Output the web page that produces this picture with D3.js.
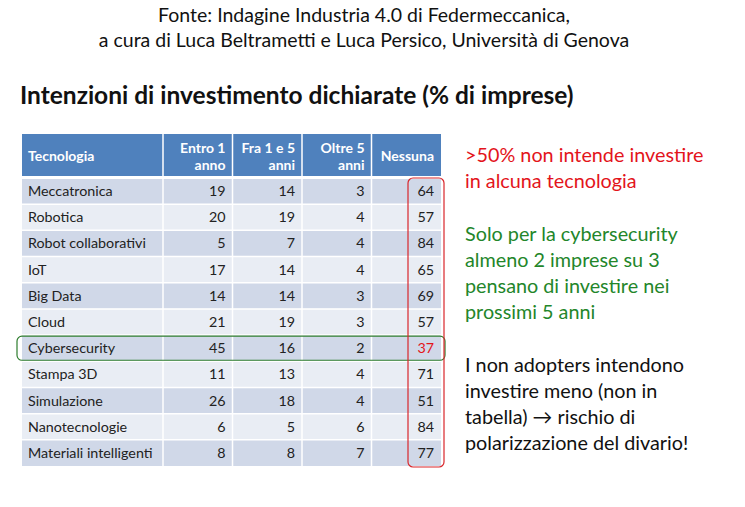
<!DOCTYPE html>
<html>
<head>
<meta charset="utf-8">
<script src="https://cdn.jsdelivr.net/npm/d3@7"></script>
<style>
body { margin:0; background:#fff; }
svg { font-family: Lato, "Open Sans", sans-serif; }
</style>
</head>
<body>
<script>

// table data
var tecnologie = ["Meccatronica","Robotica","Robot collaborativi","IoT","Big Data","Cloud","Cybersecurity","Stampa 3D","Simulazione","Nanotecnologie","Materiali intelligenti"];
var entro1 = [19,20,5,17,14,21,45,11,26,6,8];
var fra1e5 = [14,19,7,14,14,19,16,13,18,5,8];
var oltre5 = [3,4,4,4,3,3,2,4,4,6,7];
var nessuna = [64,57,84,65,69,57,37,71,51,84,77];
var colonne = [["Entro 1","anno"],["Fra 1 e 5","anni"],["Oltre 5","anni"],["Nessuna"]];

var note = [
  {color:"#e3141b", lines:[">50% non intende investire","in alcuna tecnologia"]},
  {color:"#23862a", lines:["Solo per la cybersecurity","almeno 2 imprese su 3","pensano di investire nei","prossimi 5 anni"]},
  {color:"#111", lines:["I non adopters intendono","investire meno (non in","tabella) \u2192 rischio di","polarizzazione del divario!"]}
];

var width = 745, height = 507;
var svg = d3.select("body").append("svg")
    .attr("width", width)
    .attr("height", height);

// titles
svg.append("text")
    .attr("x", 364).attr("y", 22)
    .attr("text-anchor", "middle")
    .style("font-size", "19.5px").style("fill", "#111")
    .text("Fonte: Indagine Industria 4.0 di Federmeccanica,");
svg.append("text")
    .attr("x", 364).attr("y", 47)
    .attr("text-anchor", "middle")
    .style("font-size", "19.5px").style("fill", "#111")
    .text("a cura di Luca Beltrametti e Luca Persico, Universit\u00e0 di Genova");
svg.append("text")
    .attr("x", 20).attr("y", 104)
    .style("font-size", "24.5px").style("font-weight", "bold").style("fill", "#111")
    .text("Intenzioni di investimento dichiarate (% di imprese)");

// scales
var left = 22, firstColRight = 163, right = 441;
var headTop = 134, headBottom = 177;
var y = d3.scaleBand()
    .domain(tecnologie)
    .range([178, 466]);
var x = d3.scaleBand()
    .domain(d3.range(colonne.length))
    .range([firstColRight, right]);

var series = [entro1, fra1e5, oltre5, nessuna];

var table = svg.append("g").attr("class", "table");

// header
table.append("rect")
    .attr("x", left).attr("y", headTop)
    .attr("width", right - left).attr("height", headBottom - headTop)
    .style("fill", "#4f81bd");
table.append("text")
    .attr("x", left + 6).attr("y", 161)
    .style("font-size", "14px").style("font-weight", "bold").style("fill", "#fff")
    .text("Tecnologia");

colonne.forEach(function(c, j){
  var t = table.append("text")
    .attr("x", x(j) + x.bandwidth() - 7)
    .attr("text-anchor", "end")
    .style("font-size", "14px").style("font-weight", "bold").style("fill", "#fff");
  if (c.length == 1) {
    t.attr("y", 161).text(c[0]);
  } else {
    t.append("tspan").attr("x", x(j) + x.bandwidth() - 7).attr("y", 153).text(c[0]);
    t.append("tspan").attr("x", x(j) + x.bandwidth() - 7).attr("y", 170).text(c[1]);
  }
});

// rows
var rows = table.selectAll("g.row")
    .data(tecnologie)
    .enter().append("g")
    .attr("class", "row");

rows.append("rect")
    .attr("x", left)
    .attr("y", function(d){ return y(d); })
    .attr("width", right - left)
    .attr("height", y.bandwidth())
    .style("fill", function(d, i){ return i % 2 == 0 ? "#d0d8e8" : "#e9edf4"; });

rows.append("text")
    .attr("x", left + 6)
    .attr("y", function(d){ return y(d) + y.bandwidth()/2 + 5; })
    .style("font-size", "14.3px").style("fill", "#222")
    .text(function(d){ return d; });

series.forEach(function(s, j){
  table.selectAll("text.v" + j)
    .data(s)
    .enter().append("text")
    .attr("class", "v" + j)
    .attr("x", x(j) + x.bandwidth() - 7)
    .attr("y", function(d, i){ return y(tecnologie[i]) + y.bandwidth()/2 + 5; })
    .attr("text-anchor", "end")
    .style("font-size", "14.3px")
    .style("fill", function(d, i){ return (j == 3 && tecnologie[i] == "Cybersecurity") ? "#e3141b" : "#222"; })
    .text(function(d){ return d; });
});

// white grid lines
table.selectAll("line.vsep")
    .data([firstColRight].concat(d3.range(1, colonne.length).map(function(j){ return x(j); })))
    .enter().append("line")
    .attr("x1", function(d){ return d; }).attr("x2", function(d){ return d; })
    .attr("y1", headTop).attr("y2", 466)
    .style("stroke", "#fff").style("stroke-width", 1.5);
table.selectAll("line.hsep")
    .data(tecnologie.slice(1))
    .enter().append("line")
    .attr("x1", left).attr("x2", right)
    .attr("y1", function(d){ return y(d); }).attr("y2", function(d){ return y(d); })
    .style("stroke", "#fff").style("stroke-width", 1.5);
table.append("line")
    .attr("x1", left).attr("x2", right)
    .attr("y1", headBottom + 0.5).attr("y2", headBottom + 0.5)
    .style("stroke", "#fff").style("stroke-width", 3);

// highlight boxes
svg.append("rect")
    .attr("x", 17).attr("y", y("Cybersecurity") + 1)
    .attr("width", 428).attr("height", y.bandwidth() - 2)
    .attr("rx", 5)
    .style("fill", "none").style("stroke", "#2e7d2e").style("stroke-width", 1.2);
svg.append("rect")
    .attr("x", 408).attr("y", y.range()[0])
    .attr("width", 36).attr("height", y.range()[1] - y.range()[0] + 1)
    .attr("rx", 5)
    .style("fill", "none").style("stroke", "#d9262b").style("stroke-width", 1.2);

// side notes
var lineH = 26.2, ny = 162;
note.forEach(function(n){
  n.lines.forEach(function(l){
    svg.append("text")
      .attr("x", 465).attr("y", ny)
      .style("font-size", "19.8px").style("fill", n.color)
      .text(l);
    ny += lineH;
  });
  ny += lineH;
});

</script>
</body>
</html>
